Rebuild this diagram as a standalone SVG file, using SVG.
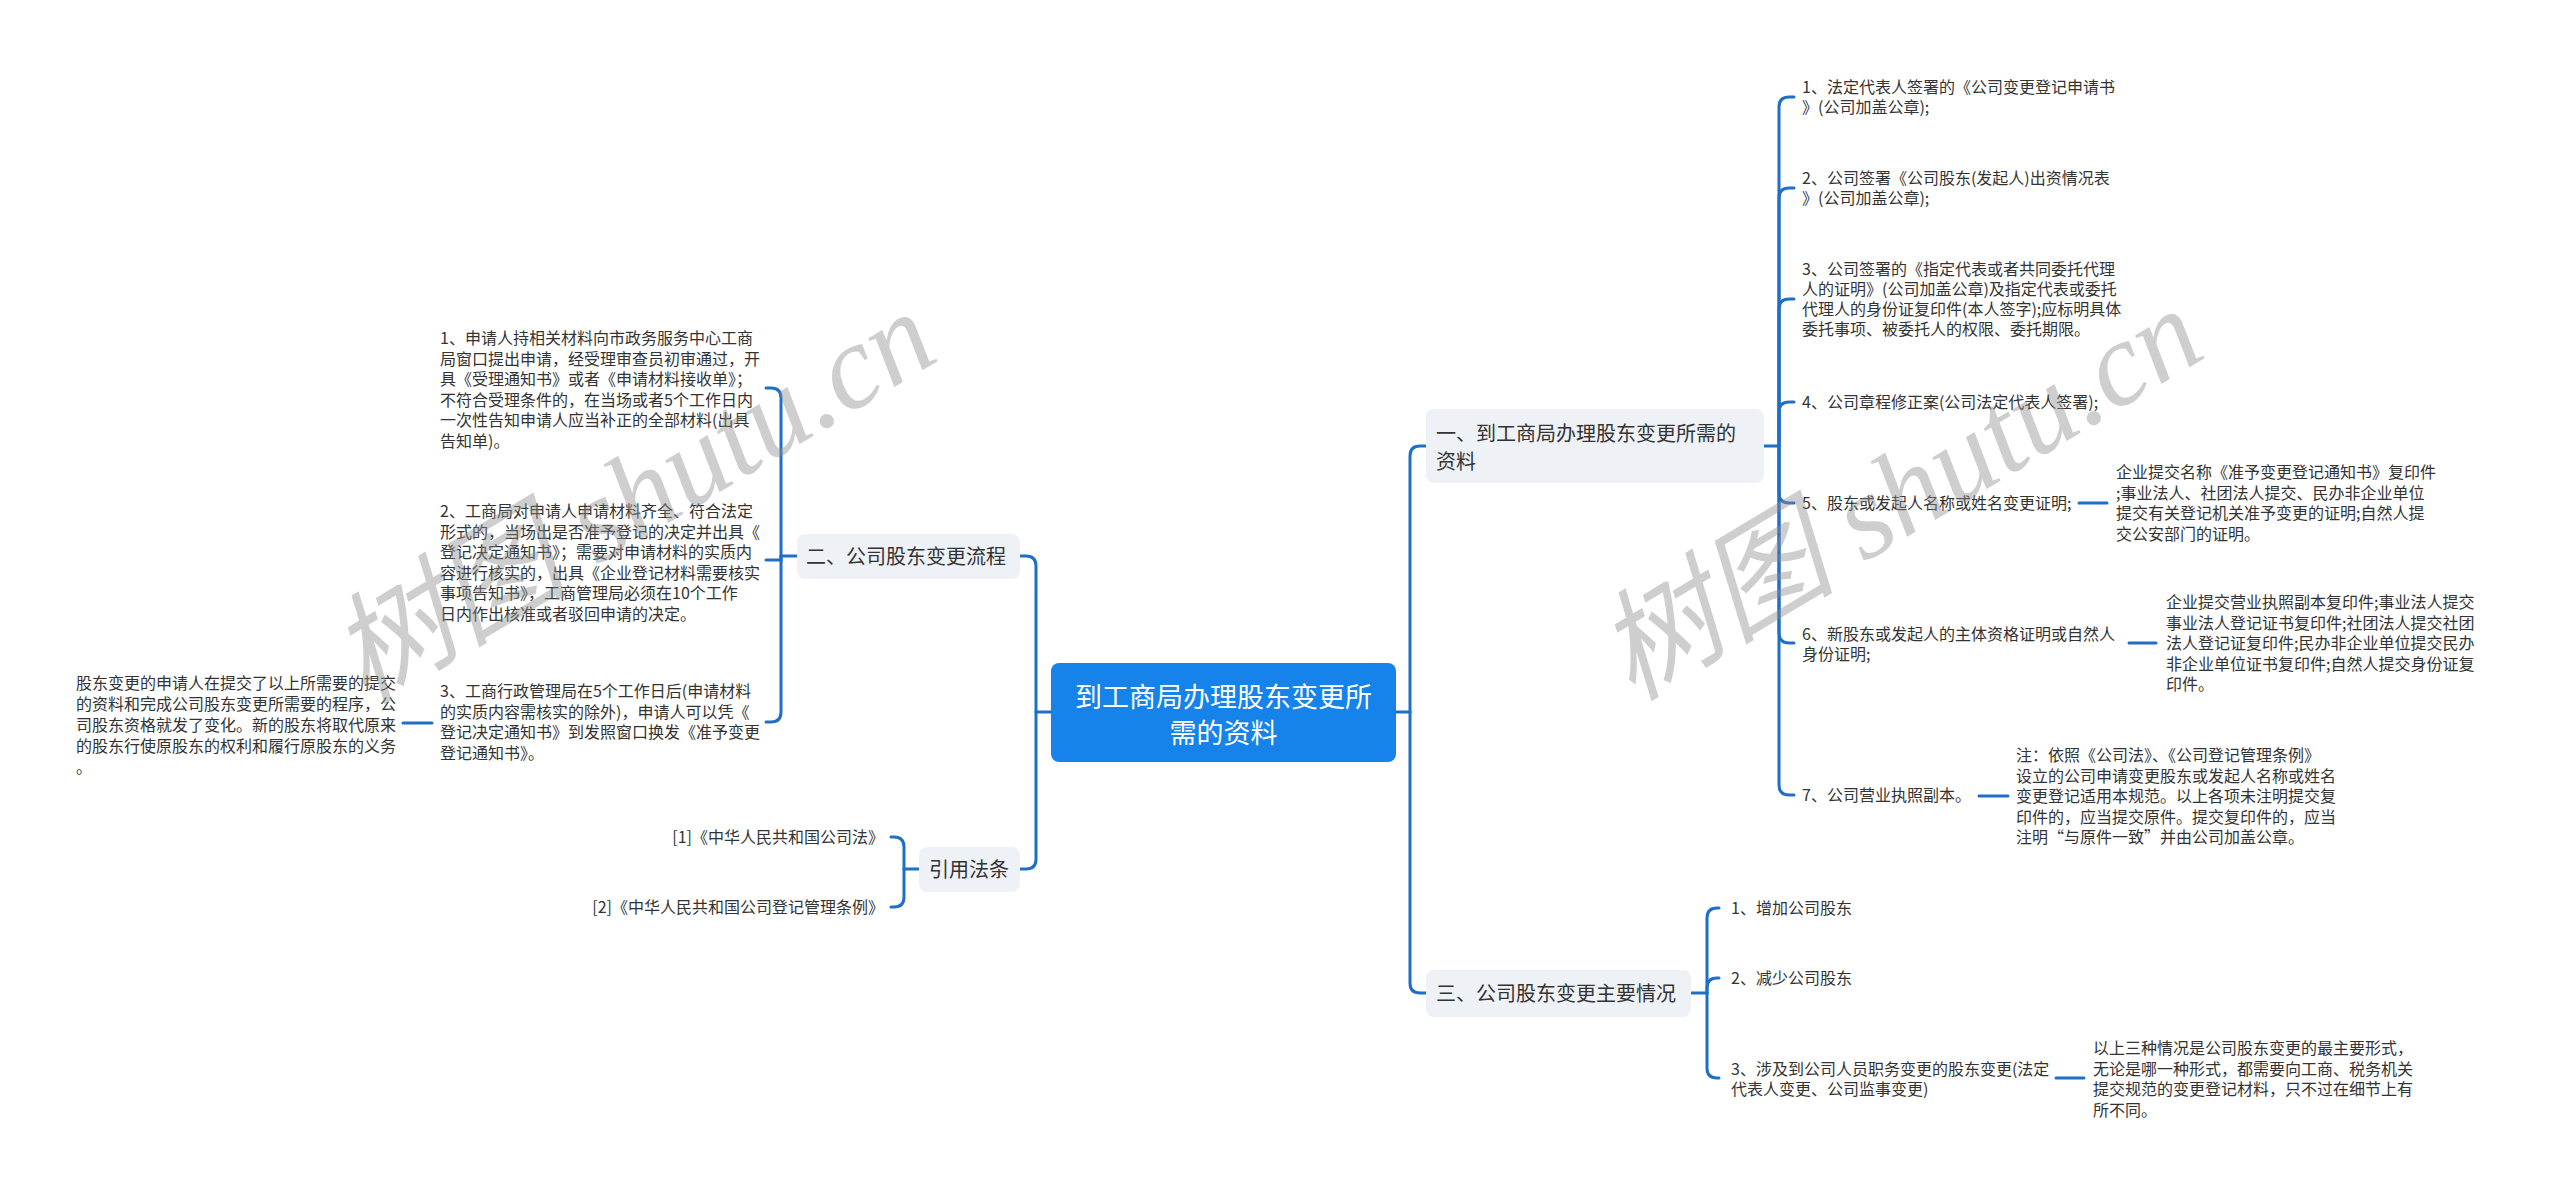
<svg xmlns="http://www.w3.org/2000/svg" width="2560" height="1196" viewBox="0 0 2560 1196">
<style>
.t{font-family:"Noto Sans CJK SC","Microsoft YaHei",sans-serif;font-size:16px;fill:#333}
.b{font-family:"Noto Sans CJK SC","Microsoft YaHei",sans-serif;font-size:20px;fill:#333}
.r{font-family:"Noto Sans CJK SC","Microsoft YaHei",sans-serif;font-size:27px;fill:#fff}
.box{fill:#eef1f5}
.c path,.c line{fill:none;stroke:#1f6fc6;stroke-width:3;stroke-linecap:round}
.wm{font-family:"Liberation Serif","Noto Sans CJK SC",serif;font-size:120px;font-style:italic;fill:#8c8c8c;opacity:0.42}
</style>
<rect width="2560" height="1196" fill="#fff"/>

<g id="connectors" class="c">
  <!-- root right -->
  <line x1="1396" y1="712" x2="1410" y2="712"/>
  <path d="M1410 712 V456 Q1410 446 1420 446 H1426"/>
  <path d="M1410 712 V983 Q1410 993 1420 993 H1426"/>
  <!-- root left -->
  <line x1="1051" y1="712" x2="1036" y2="712"/>
  <path d="M1036 712 V566 Q1036 556 1026 556 H1020"/>
  <path d="M1036 712 V859 Q1036 869 1026 869 H1020"/>
  <!-- branch one -->
  <line x1="1764" y1="446" x2="1779" y2="446"/>
  <path d="M1779 446 V107 Q1779 97 1789 97 H1794"/>
  <path d="M1779 446 V198 Q1779 188 1789 188 H1794"/>
  <path d="M1779 446 V309 Q1779 299 1789 299 H1794"/>
  <path d="M1779 446 V412 Q1779 402 1789 402 H1794"/>
  <path d="M1779 446 V493 Q1779 503 1789 503 H1794"/>
  <path d="M1779 446 V633 Q1779 643 1789 643 H1794"/>
  <path d="M1779 446 V785 Q1779 795 1789 795 H1794"/>
  <line x1="2079" y1="503" x2="2107" y2="503"/>
  <line x1="2129" y1="643" x2="2156" y2="643"/>
  <line x1="1979" y1="796" x2="2008" y2="796"/>
  <!-- branch three -->
  <line x1="1691" y1="993" x2="1707" y2="993"/>
  <path d="M1707 993 V918 Q1707 908 1717 908 H1719"/>
  <path d="M1707 993 V988 Q1707 978 1717 978 H1719"/>
  <path d="M1707 993 V1068 Q1707 1078 1717 1078 H1719"/>
  <line x1="2056" y1="1078" x2="2084" y2="1078"/>
  <!-- branch two -->
  <line x1="797" y1="556" x2="781" y2="556"/>
  <path d="M781 556 V398 Q781 388 771 388 H766"/>
  <path d="M781 556 V560 H766"/>
  <path d="M781 556 V712 Q781 722 771 722 H766"/>
  <line x1="432" y1="723" x2="403" y2="723"/>
  <!-- citations -->
  <line x1="919" y1="869" x2="904" y2="869"/>
  <path d="M904 869 V847 Q904 837 894 837 H891"/>
  <path d="M904 869 V897 Q904 907 894 907 H891"/>
</g>

<g id="root">
  <rect x="1051" y="663" width="345" height="99" rx="8" fill="#1683ea"/>
  <text class="r" x="1223.5" y="707" text-anchor="middle">到工商局办理股东变更所</text>
  <text class="r" x="1223.5" y="743" text-anchor="middle">需的资料</text>
</g>

<g id="branch1">
  <rect class="box" x="1426" y="409" width="338" height="74" rx="8"/>
  <text class="b" x="1436" y="441">一、到工商局办理股东变更所需的</text>
  <text class="b" x="1436" y="469">资料</text>
</g>
<g id="branch3">
  <rect class="box" x="1426" y="970" width="265" height="47" rx="8"/>
  <text class="b" x="1436" y="1001">三、公司股东变更主要情况</text>
</g>
<g id="branch2">
  <rect class="box" x="797" y="534" width="223" height="45" rx="8"/>
  <text class="b" x="806" y="564">二、公司股东变更流程</text>
</g>
<g id="branch4">
  <rect class="box" x="919" y="847" width="101" height="45" rx="8"/>
  <text class="b" x="929" y="877">引用法条</text>
</g>

<g id="b1c1"><text class="t" x="1802" y="93">1、法定代表人签署的《公司变更登记申请书</text><text class="t" x="1802" y="113">》(公司加盖公章);</text></g>
<g id="b1c2"><text class="t" x="1802" y="184">2、公司签署《公司股东(发起人)出资情况表</text><text class="t" x="1802" y="204">》(公司加盖公章);</text></g>
<g id="b1c3"><text class="t" x="1802" y="275">3、公司签署的《指定代表或者共同委托代理</text><text class="t" x="1802" y="295">人的证明》(公司加盖公章)及指定代表或委托</text><text class="t" x="1802" y="315">代理人的身份证复印件(本人签字);应标明具体</text><text class="t" x="1802" y="335">委托事项、被委托人的权限、委托期限。</text></g>
<g id="b1c4"><text class="t" x="1802" y="408">4、公司章程修正案(公司法定代表人签署);</text></g>
<g id="b1c5"><text class="t" x="1802" y="509">5、股东或发起人名称或姓名变更证明;</text></g>
<g id="b1c5a"><text class="t" x="2116" y="478">企业提交名称《准予变更登记通知书》复印件</text><text class="t" x="2116" y="499">;事业法人、社团法人提交、民办非企业单位</text><text class="t" x="2116" y="519">提交有关登记机关准予变更的证明;自然人提</text><text class="t" x="2116" y="540">交公安部门的证明。</text></g>
<g id="b1c6"><text class="t" x="1802" y="640">6、新股东或发起人的主体资格证明或自然人</text><text class="t" x="1802" y="660">身份证明;</text></g>
<g id="b1c6a"><text class="t" x="2166" y="608">企业提交营业执照副本复印件;事业法人提交</text><text class="t" x="2166" y="629">事业法人登记证书复印件;社团法人提交社团</text><text class="t" x="2166" y="649">法人登记证复印件;民办非企业单位提交民办</text><text class="t" x="2166" y="670">非企业单位证书复印件;自然人提交身份证复</text><text class="t" x="2166" y="690">印件。</text></g>
<g id="b1c7"><text class="t" x="1802" y="801">7、公司营业执照副本。</text></g>
<g id="b1c7a"><text class="t" x="2016" y="761">注：依照《公司法》、《公司登记管理条例》</text><text class="t" x="2016" y="782">设立的公司申请变更股东或发起人名称或姓名</text><text class="t" x="2016" y="802">变更登记适用本规范。以上各项未注明提交复</text><text class="t" x="2016" y="823">印件的，应当提交原件。提交复印件的，应当</text><text class="t" x="2016" y="843">注明“与原件一致”并由公司加盖公章。</text></g>

<g id="b3c1"><text class="t" x="1731" y="914">1、增加公司股东</text></g>
<g id="b3c2"><text class="t" x="1731" y="984">2、减少公司股东</text></g>
<g id="b3c3"><text class="t" x="1731" y="1075">3、涉及到公司人员职务变更的股东变更(法定</text><text class="t" x="1731" y="1095">代表人变更、公司监事变更)</text></g>
<g id="b3c3a"><text class="t" x="2093" y="1054">以上三种情况是公司股东变更的最主要形式，</text><text class="t" x="2093" y="1075">无论是哪一种形式，都需要向工商、税务机关</text><text class="t" x="2093" y="1095">提交规范的变更登记材料，只不过在细节上有</text><text class="t" x="2093" y="1116">所不同。</text></g>

<g id="b2c1"><text class="t" x="440" y="344">1、申请人持相关材料向市政务服务中心工商</text><text class="t" x="440" y="365">局窗口提出申请，经受理审查员初审通过，开</text><text class="t" x="440" y="385">具《受理通知书》或者《申请材料接收单》；</text><text class="t" x="440" y="406">不符合受理条件的，在当场或者5个工作日内</text><text class="t" x="440" y="426">一次性告知申请人应当补正的全部材料(出具</text><text class="t" x="440" y="447">告知单)。</text></g>
<g id="b2c2"><text class="t" x="440" y="517">2、工商局对申请人申请材料齐全、符合法定</text><text class="t" x="440" y="538">形式的，当场出是否准予登记的决定并出具《</text><text class="t" x="440" y="558">登记决定通知书》；需要对申请材料的实质内</text><text class="t" x="440" y="579">容进行核实的，出具《企业登记材料需要核实</text><text class="t" x="440" y="599">事项告知书》，工商管理局必须在10个工作</text><text class="t" x="440" y="620">日内作出核准或者驳回申请的决定。</text></g>
<g id="b2c3"><text class="t" x="440" y="697">3、工商行政管理局在5个工作日后(申请材料</text><text class="t" x="440" y="718">的实质内容需核实的除外)，申请人可以凭《</text><text class="t" x="440" y="738">登记决定通知书》到发照窗口换发《准予变更</text><text class="t" x="440" y="759">登记通知书》。</text></g>
<g id="b2c3a"><text class="t" x="76" y="689">股东变更的申请人在提交了以上所需要的提交</text><text class="t" x="76" y="710">的资料和完成公司股东变更所需要的程序，公</text><text class="t" x="76" y="731">司股东资格就发了变化。新的股东将取代原来</text><text class="t" x="76" y="752">的股东行使原股东的权利和履行原股东的义务</text><text class="t" x="76" y="773">。</text></g>

<g id="b4c1"><text class="t" x="884" y="843" text-anchor="end">[1]《中华人民共和国公司法》</text></g>
<g id="b4c2"><text class="t" x="884" y="913" text-anchor="end">[2]《中华人民共和国公司登记管理条例》</text></g>

<g id="watermark">
  <text class="wm" transform="translate(365 705) rotate(-31)">树图 shutu.cn</text>
  <text class="wm" transform="translate(1632 702) rotate(-31)">树图 shutu.cn</text>
</g>
</svg>
